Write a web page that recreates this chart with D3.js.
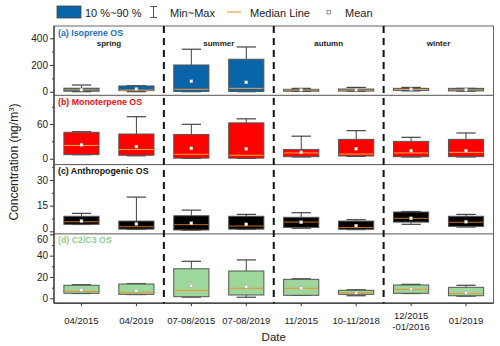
<!DOCTYPE html>
<html>
<head>
<meta charset="utf-8">
<script src="https://cdn.jsdelivr.net/npm/d3@7"></script>
<style>
  body { margin: 0; background: #fff; }
  svg { font-family: "Liberation Sans", Arial, sans-serif; }
</style>
</head>
<body>
<svg id="chart" width="500" height="346"></svg>
<script>
// dates on the x axis, and the season each pair belongs to
const dates = ["04/2015", "04/2019", "07-08/2015", "07-08/2019", "11/2015", "10-11/2018", "12/2015|-01/2016", "01/2019"];
const seasons = ["spring", "summer", "autumn", "winter"];

// each box: [min, p10, median, mean, p90, max]
const isopreneOS = [
  [0, 4, 14, 15, 26, 50], [0, 8, 12, 20, 43, 45],
  [0, 2, 18, 78, 200, 318], [0, 2, 25, 70, 243, 335],
  [2, 4, 12, 13, 18, 25], [3, 5, 12, 14, 20, 32],
  [6, 10, 17, 18, 25, 32], [4, 6, 14, 15, 25, 25]
];
const monoterpeneOS = [
  [7, 7, 23, 24, 45.7, 46.7], [5, 6, 16, 21, 42.7, 72.7],
  [0.5, 1, 7.6, 18, 42, 59.5], [0.5, 1, 6, 17, 62, 69],
  [3, 3.5, 10, 11, 16, 39], [4, 4.7, 8, 17.3, 33.5, 48.5],
  [3, 3.5, 10, 13.8, 30, 37], [3, 3.5, 11, 13.8, 33.5, 44.5]
];
const anthropogenicOS = [
  [4, 4.1, 5.6, 6, 8.8, 10.5], [1.2, 1.3, 2.7, 4.3, 6, 20],
  [0.7, 0.8, 3.9, 4.7, 9.1, 12.4], [1.2, 1.3, 3.1, 4.1, 8.8, 9.9],
  [1.8, 2.3, 5.4, 5.3, 8.2, 10.9], [1, 1.2, 2.2, 3.3, 6, 6.8],
  [4.1, 5.4, 7.6, 7.6, 11.3, 11.6], [2.5, 2.9, 5.3, 5.6, 8.8, 9.9]
];
const c2c3OS = [
  [4.5, 4.7, 6.5, 7.8, 12.2, 12.7], [3.5, 3.7, 5.6, 7.1, 13.4, 13.7],
  [1.1, 1.5, 7.5, 11.8, 27.7, 34.7], [1, 3.1, 9.4, 10.9, 25.6, 36],
  [2.8, 2.8, 9.4, 9.4, 17.8, 18.3], [2.4, 3.7, 5.2, 5.2, 7.5, 8],
  [4.5, 4.7, 8.4, 8.4, 12.5, 13.1], [2, 2.4, 4.3, 5.3, 10.3, 12.2]
];

const panelNames = ["(a) Isoprene OS", "(b) Monoterpene OS", "(c) Anthropogenic OS", "(d) C2/C3 OS"];
const panelDomains = [[-27, 492], [-10.2, 109.7], [-1.5, 39], [-4.6, 60.4]];
const panelTicks = [[0, 200, 400], [0, 60], [0, 15, 30], [0, 20, 40, 60]];

const panels = [
  { name: panelNames[0], data: isopreneOS, domain: panelDomains[0], ticks: panelTicks[0], fill: "#0a64a8", label: "#1b6fba", median: "#f0a040" },
  { name: panelNames[1], data: monoterpeneOS, domain: panelDomains[1], ticks: panelTicks[1], fill: "#ff0000", label: "#e8100f", median: "#f5b030" },
  { name: panelNames[2], data: anthropogenicOS, domain: panelDomains[2], ticks: panelTicks[2], fill: "#000000", label: "#111", median: "#c8701a" },
  { name: panelNames[3], data: c2c3OS, domain: panelDomains[3], ticks: panelTicks[3], fill: "#9ed79c", label: "#8fd08c", median: "#f0902a" }
];

const svg = d3.select("#chart");
const plotL = 54, plotR = 493.5, plotT = 26, plotB = 303.2;
const panelH = (plotB - plotT) / panels.length;

const x = d3.scaleBand().domain(dates).range([plotL, plotR]).padding(0);
const bw = x.bandwidth();
const boxW = bw * 0.64;
const capW = boxW * 0.55;

panels.forEach((p, k) => {
  const y0 = plotT + k * panelH;
  const y = d3.scaleLinear().domain(p.domain).range([y0 + panelH, y0]);
  const g = svg.append("g");

  // y axis, minor ticks halfway between the labelled ones
  const minor = [];
  p.ticks.forEach((t, i) => { if (i < p.ticks.length - 1) minor.push((t + p.ticks[i + 1]) / 2); });
  const last = p.ticks[p.ticks.length - 1];
  const step = p.ticks[1] - p.ticks[0];
  if (y(last + step / 2) > y0) minor.push(last + step / 2);

  g.append("g")
    .attr("transform", `translate(${plotL},0)`)
    .call(d3.axisLeft(y).tickValues(minor).tickSize(2).tickFormat(""))
    .call(a => a.select(".domain").remove())
    .call(a => a.selectAll("line").attr("stroke", "#333"));

  g.append("g")
    .attr("transform", `translate(${plotL},0)`)
    .call(d3.axisLeft(y).tickValues(p.ticks).tickSize(4).tickPadding(2))
    .call(a => a.select(".domain").remove())
    .call(a => a.selectAll("line").attr("stroke", "#333"))
    .call(a => a.selectAll("text").attr("font-size", 10).attr("fill", "#222")
      .attr("font-family", "Liberation Sans, Arial, sans-serif"))
    // the 0 of (c) and the 60 of (d) sit on the same border: nudge them apart
    .call(a => a.selectAll("text").filter(t => k === 2 && t === 0).attr("dy", "0.0em"))
    .call(a => a.selectAll("text").filter(t => k === 3 && t === 60).attr("dy", "0.8em"));

  // boxes
  const box = g.selectAll(".box").data(p.data).enter().append("g")
    .attr("transform", (d, i) => `translate(${x(dates[i]) + bw / 2},0)`);

  box.append("line")
    .attr("y1", d => y(d[5])).attr("y2", d => y(d[4]))
    .attr("stroke", "#444").attr("stroke-width", 1);
  box.append("line")
    .attr("y1", d => y(d[1])).attr("y2", d => y(d[0]))
    .attr("stroke", "#444").attr("stroke-width", 1);
  box.append("line")
    .attr("x1", -capW / 2).attr("x2", capW / 2)
    .attr("y1", d => y(d[5])).attr("y2", d => y(d[5]))
    .attr("stroke", "#444").attr("stroke-width", 1.2);
  box.append("line")
    .attr("x1", -capW / 2).attr("x2", capW / 2)
    .attr("y1", d => y(d[0])).attr("y2", d => y(d[0]))
    .attr("stroke", "#444").attr("stroke-width", 1.2);
  box.append("rect")
    .attr("x", -boxW / 2).attr("width", boxW)
    .attr("y", d => y(d[4]))
    .attr("height", d => Math.max(1.5, y(d[1]) - y(d[4])))
    .attr("fill", p.fill).attr("stroke", "#555").attr("stroke-width", 1);
  box.append("line")
    .attr("x1", -boxW / 2 + 0.5).attr("x2", boxW / 2 - 0.5)
    .attr("y1", d => y(d[2])).attr("y2", d => y(d[2]))
    .attr("stroke", p.median).attr("stroke-width", 1);
  box.append("rect")
    .attr("x", -1.5).attr("width", 3)
    .attr("y", d => y(d[3]) - 1.5).attr("height", 3)
    .attr("fill", "#fff").attr("stroke", "#999").attr("stroke-width", 0.4);

  // panel label
  g.append("text")
    .attr("x", plotL + 4).attr("y", y0 + 9.5)
    .attr("font-size", 8.8).attr("font-weight", "bold")
    .attr("fill", p.label).text(p.name);

  // panel separator
  if (k > 0) {
    g.append("line")
      .attr("x1", plotL).attr("x2", plotR).attr("y1", y0).attr("y2", y0)
      .attr("stroke", "#555").attr("stroke-width", 1);
  }
});

// frame
svg.append("rect")
  .attr("x", plotL).attr("y", plotT).attr("width", plotR - plotL).attr("height", plotB - plotT)
  .attr("fill", "none").attr("stroke", "#666").attr("stroke-width", 1);
svg.append("line")
  .attr("x1", plotL).attr("x2", plotL).attr("y1", plotT).attr("y2", plotB)
  .attr("stroke", "#333").attr("stroke-width", 1.2);
svg.append("line")
  .attr("x1", plotL).attr("x2", plotR).attr("y1", plotB).attr("y2", plotB)
  .attr("stroke", "#333").attr("stroke-width", 1.2);

// season dividers and names
[2, 4, 6].forEach(i => {
  svg.append("line")
    .attr("x1", x(dates[i])).attr("x2", x(dates[i]))
    .attr("y1", plotT).attr("y2", plotB)
    .attr("stroke", "#111").attr("stroke-width", 2).attr("stroke-dasharray", "7,5");
});
seasons.forEach((s, i) => {
  svg.append("text")
    .attr("x", x(dates[i * 2]) + bw).attr("y", plotT + 19.5)
    .attr("text-anchor", "middle").attr("font-size", 8).attr("font-weight", "bold")
    .attr("fill", "#222").text(s);
});

// x axis
svg.append("g")
  .attr("transform", `translate(0,${plotB})`)
  .call(d3.axisBottom(x).tickSize(3).tickFormat(""))
  .call(a => a.select(".domain").remove())
  .call(a => a.selectAll("line").attr("stroke", "#333"));
dates.forEach(d => {
  const parts = d.split("|");
  const t = svg.append("text")
    .attr("x", x(d) + bw / 2)
    .attr("y", parts.length > 1 ? plotB + 15.5 : plotB + 21)
    .attr("text-anchor", "middle").attr("font-size", 9.5).attr("fill", "#222");
  parts.forEach((s, j) => t.append("tspan").attr("x", x(d) + bw / 2).attr("dy", j ? 11.5 : 0).text(s));
});

svg.append("text")
  .attr("x", (plotL + plotR) / 2).attr("y", 340.5)
  .attr("text-anchor", "middle").attr("font-size", 11.5).attr("fill", "#222").text("Date");

const yTitle = svg.append("text")
  .attr("transform", `translate(18,162) rotate(-90)`)
  .attr("text-anchor", "middle").attr("font-size", 12).attr("fill", "#222");
yTitle.append("tspan").text("Concentration (ng/m");
yTitle.append("tspan").attr("dy", -4.5).attr("font-size", 8).text("3");
yTitle.append("tspan").attr("dy", 4.5).text(")");

// legend
const leg = svg.append("g").attr("font-size", 11).attr("fill", "#222");
leg.append("rect").attr("x", 57).attr("y", 6).attr("width", 24).attr("height", 12)
  .attr("fill", "#0a64a8").attr("stroke", "#444").attr("stroke-width", 0.8);
leg.append("text").attr("x", 85).attr("y", 16.5).text("10 %~90 %");
leg.append("path").attr("d", "M150,6.5H157M153.5,6.5V17.5M150,17.5H157")
  .attr("stroke", "#555").attr("fill", "none").attr("stroke-width", 1);
leg.append("text").attr("x", 170).attr("y", 16.5).text("Min~Max");
leg.append("line").attr("x1", 227).attr("x2", 241).attr("y1", 12).attr("y2", 12)
  .attr("stroke", "#f0a040").attr("stroke-width", 1.2);
leg.append("text").attr("x", 250).attr("y", 16.5).text("Median Line");
leg.append("rect").attr("x", 327).attr("y", 10.5).attr("width", 3.5).attr("height", 3.5)
  .attr("fill", "#fff").attr("stroke", "#666").attr("stroke-width", 0.7);
leg.append("text").attr("x", 345).attr("y", 16.5).text("Mean");
</script>
</body>
</html>
